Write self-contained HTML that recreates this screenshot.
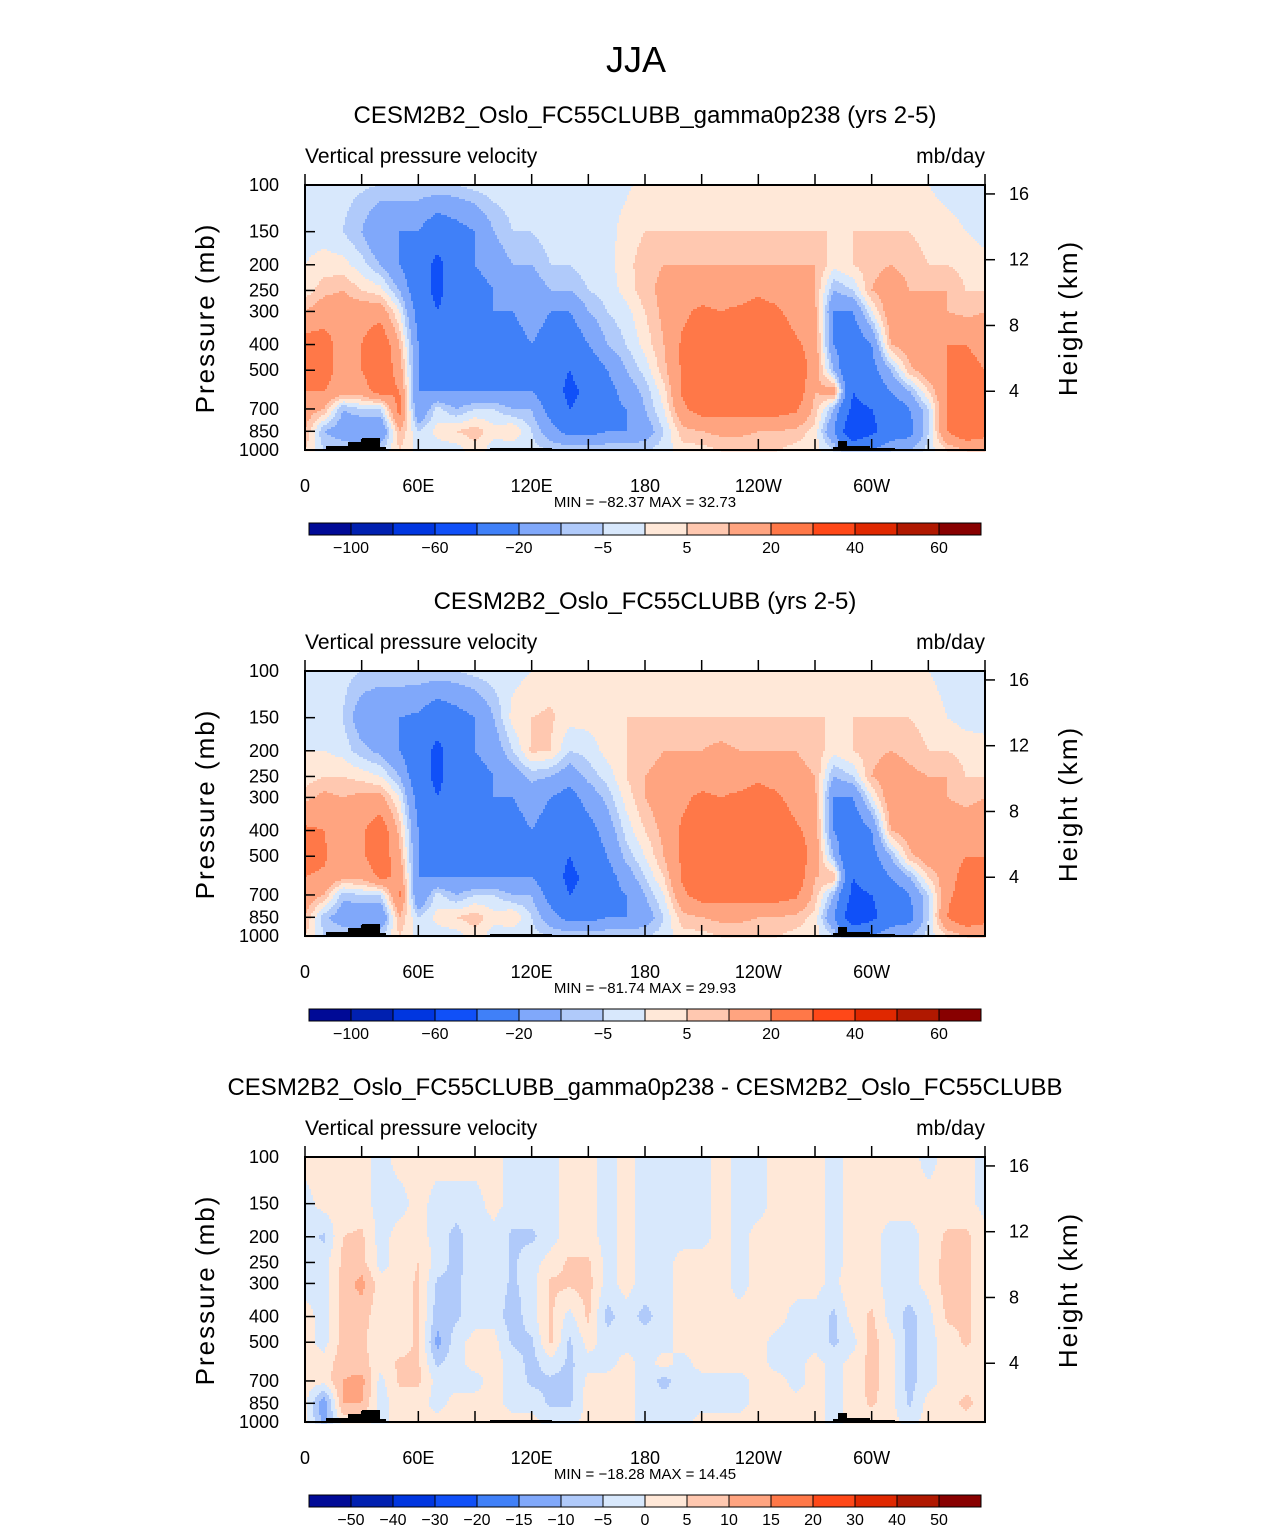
<!DOCTYPE html>
<html><head><meta charset="utf-8"><style>
body{margin:0;background:#fff;}
svg text{font-family:"Liberation Sans",sans-serif;fill:#000;}
</style></head><body>
<svg id="fig" width="1285" height="1531" viewBox="0 0 1285 1531" xmlns="http://www.w3.org/2000/svg">
<text x="636" y="72" font-size="36" text-anchor="middle">JJA</text>
</svg>
<script>
const lons=[0,10,20,30,40,50,60,70,80,90,100,110,120,130,140,150,160,170,180,190,200,210,220,230,240,250,260,270,280,290,300,310,320,330,340,350,360];
const levels=[100,150,200,250,300,400,500,600,700,850,1000];
const colors=["#000a96","#0020b0","#0036e0","#1050f8","#4080f8","#80a8fa","#b0cafa","#d8e8fc","#ffe8d8","#ffc8b0","#ffa480","#ff7848","#ff4818","#e02800","#b01800","#880000"];
const bounds12=[-100,-80,-60,-40,-20,-10,-5,0,5,10,20,30,40,50,60];
const bounds3=[-50,-40,-30,-20,-15,-10,-5,0,5,10,15,20,30,40,50];
const cbLabels12=["−100","−60","−20","−5","5","20","40","60"];
const cbLabels3=["−50","−40","−30","−20","−15","−10","−5","0","5","10","15","20","30","40","50"];
const pTicks=[100,150,200,250,300,400,500,700,850,1000];
const hTicks=[16,12,8,4];
const lonTicks=["0","60E","120E","180","120W","60W"];
const field1=[
[-3,-2,0,2,10,25,25,20,15,10,5],[-3,-2,2,8,15,25,25,20,10,-10,-5],[-3,-5,2,10,15,15,15,15,-10,-15,-5],[-4,-10,-3,5,15,20,20,15,-5,-20,-5],
[-5,-20,-10,2,15,30,30,25,-5,-20,-5],[-5,-20,-20,-10,0,10,15,20,25,10,5],[-5,-20,-30,-30,-25,-20,-20,-20,-20,-5,-2],[-5,-30,-45,-45,-40,-30,-25,-20,-3,2,-3],
[-5,-25,-30,-30,-30,-30,-25,-20,-10,5,-3],[-3,-20,-20,-25,-25,-25,-25,-20,-5,8,3],[-2,-10,-15,-20,-20,-25,-25,-20,-5,2,-3],[-2,-5,-10,-15,-20,-25,-25,-20,-10,5,-5],
[-2,-5,-10,-15,-15,-20,-20,-20,-10,-5,-3],[-2,-2,-5,-10,-20,-25,-30,-30,-25,-15,-5],[-2,-2,-5,-10,-20,-30,-40,-45,-40,-25,-5],[-2,-2,-2,-5,-10,-20,-30,-35,-35,-25,-5],
[-2,-2,-2,-3,-5,-10,-20,-25,-25,-20,-5],[-1,2,3,2,-2,-5,-10,-15,-20,-20,-5],[2,5,8,8,5,2,-3,-8,-10,-15,-5],[3,5,10,12,12,10,8,3,0,-5,-3],
[3,5,10,15,18,22,22,22,18,8,3],[3,5,10,15,22,25,25,25,25,10,3],[3,5,10,15,20,25,28,28,25,12,5],[3,5,10,15,22,25,28,28,25,12,5],
[3,5,10,18,25,25,28,28,25,10,5],[3,5,10,15,22,28,28,28,25,10,5],[3,5,10,12,15,22,28,28,22,8,3],[2,5,10,10,12,15,15,10,8,3,2],
[2,5,2,-10,-20,-20,-10,15,-10,-20,-5],[2,5,5,-5,-20,-30,-40,-40,-45,-60,-20],[2,5,8,10,0,-20,-25,-30,-40,-45,-20],[2,5,10,15,15,10,-10,-20,-30,-30,-10],
[2,5,8,10,12,15,8,-10,-20,-25,-10],[0,3,5,10,15,20,15,5,-5,-5,-3],[-2,2,5,10,10,20,20,20,20,20,5],[-3,0,3,5,8,20,25,25,25,30,10],[-3,-2,2,5,10,15,20,20,20,25,10]];
const field2=[
[-3,-2,0,2,8,22,25,20,15,10,5],[-3,-2,0,5,12,20,22,18,10,-8,-5],[-3,-5,-2,5,10,12,12,12,-8,-15,-5],[-5,-15,-8,3,12,18,18,12,-5,-20,-5],
[-5,-20,-12,0,12,28,28,22,-5,-20,-5],[-5,-20,-20,-10,0,8,12,18,22,10,5],[-5,-22,-30,-30,-25,-20,-20,-20,-20,-5,-2],[-5,-30,-45,-45,-40,-30,-25,-20,-3,2,-3],
[-5,-25,-30,-30,-30,-30,-25,-20,-10,5,-3],[-3,-20,-20,-25,-25,-25,-25,-20,-5,8,3],[-2,-10,-15,-20,-20,-25,-25,-20,-5,2,-3],[-2,2,-5,-15,-20,-25,-25,-20,-10,5,-5],
[0,5,6,-8,-15,-20,-20,-20,-10,-5,-3],[2,6,5,-10,-20,-25,-30,-30,-25,-15,-5],[2,2,-5,-15,-25,-30,-40,-45,-40,-25,-5],[2,2,-3,-8,-15,-25,-30,-35,-35,-25,-5],
[2,3,2,-3,-8,-15,-20,-25,-25,-20,-5],[3,5,5,5,2,-3,-8,-15,-20,-20,-5],[3,5,8,10,10,5,0,-5,-10,-15,-5],[3,5,10,12,15,12,10,5,0,-5,-3],
[3,5,10,15,18,22,22,22,18,8,3],[3,5,10,15,22,25,25,25,25,10,3],[3,5,12,15,20,25,28,28,25,12,5],[3,5,10,15,22,25,28,28,25,12,5],
[3,5,10,18,25,25,28,28,25,10,5],[3,5,10,15,22,28,28,28,25,10,5],[3,5,10,12,15,22,28,28,22,8,3],[2,5,8,10,12,15,15,10,8,3,2],
[2,5,2,-10,-20,-20,-10,10,-10,-20,-5],[2,5,5,-5,-20,-30,-40,-40,-45,-55,-20],[2,5,8,10,0,-20,-25,-30,-40,-45,-20],[2,5,10,15,15,10,-10,-20,-30,-30,-10],
[2,5,8,12,20,15,8,-10,-20,-25,-10],[0,3,5,10,15,20,15,5,-5,-5,-3],[-2,0,5,10,10,15,15,15,18,20,5],[-3,-2,3,5,8,15,20,25,25,30,10],[-3,-2,2,5,10,15,20,20,20,25,10]];
const field3=[
[2,-2,-2,-2,-2,2,2,2,2,2,2],[2,2,-6,-2,-2,-2,-2,2,2,-15,-12],[2,2,5,6,7,7,7,8,10,10,2],[2,2,6,7,12,7,6,7,12,10,2],
[-2,-2,-2,-2,2,2,2,2,-2,-2,-2],[2,-2,2,2,2,2,2,6,6,2,2],[2,2,2,5,6,6,6,6,6,2,2],[2,-2,-2,-2,-6,-8,-12,-6,-2,-2,2],
[2,-2,-7,-7,-6,-6,-2,-2,-2,2,2],[2,-2,-2,-2,-2,-2,2,2,-2,2,2],[2,2,-2,-2,-2,-2,2,2,2,2,2],[-2,-2,-6,-6,-6,-8,-6,-2,-2,-2,2],
[-2,-2,-6,-2,-2,-2,-6,-7,-6,-2,2],[-2,-2,-2,2,6,6,6,-2,-6,-6,-2],[2,2,2,6,6,-2,-6,-6,-7,-6,-2],[2,2,2,6,7,6,2,-2,2,2,2],
[-2,-2,-2,-2,-2,-7,-2,-2,2,2,2],[2,2,2,2,2,-2,-2,2,2,2,2],[-2,-2,-2,-2,-2,-7,-2,-2,-2,-2,-2],[-2,-2,-2,-2,-2,-2,-2,2,-7,-2,-2],
[-2,-2,-2,2,2,2,2,-2,-2,-2,-2],[-2,-2,-2,2,2,2,2,2,-2,-2,2],[2,2,2,2,2,2,2,2,-2,-2,2],[-2,-2,-2,-2,-2,2,2,2,-2,-2,2],
[-2,-2,2,2,2,2,2,2,2,2,2],[2,2,2,2,2,2,-2,-2,2,2,2],[2,2,2,2,2,-2,-2,-2,-2,2,2],[2,2,2,2,2,-2,-2,2,2,2,2],
[-2,-2,-2,-2,-2,-6,-6,-2,-2,-2,-2],[2,2,2,2,5,2,-2,2,2,2,2],[2,2,2,2,2,6,7,7,7,6,2],[2,2,-2,-2,-2,-2,2,2,2,2,2],
[2,2,-2,-2,-2,-7,-7,-7,-7,-6,-2],[-2,2,2,2,2,-2,-2,-2,-2,2,2],[2,2,6,7,7,6,2,2,2,2,2],[2,2,6,6,6,6,6,2,2,7,2],[-2,-2,2,2,2,2,2,2,2,2,2]];
const titles=["CESM2B2_Oslo_FC55CLUBB_gamma0p238 (yrs 2-5)","CESM2B2_Oslo_FC55CLUBB (yrs 2-5)","CESM2B2_Oslo_FC55CLUBB_gamma0p238 - CESM2B2_Oslo_FC55CLUBB"];
const minmax=[["−82.37","32.73"],["−81.74","29.93"],["−18.28","14.45"]];

const NS="http://www.w3.org/2000/svg";
const svg=document.getElementById('fig');
function mk(tag,attrs,parent){const e=document.createElementNS(NS,tag);for(const k in attrs)e.setAttribute(k,attrs[k]);(parent||svg).appendChild(e);return e;}
function txt(x,y,s,size,anchor,parent){const t=mk('text',{x:x,y:y,'font-size':size,'text-anchor':anchor||'start'},parent);t.textContent=s;return t;}
const X0=305,X1=985,PH=265;
function xOf(lon){return X0+(X1-X0)*lon/360;}
function yOf(p,top){return top+PH*Math.log10(p/100);}
function colorFor(v,b){let i=0;while(i<b.length&&v>=b[i])i++;return colors[i];}
function sample(f,lon,p){
  let i=Math.min(Math.floor(lon/10),35);let fx=(lon-lons[i])/10;
  const lp=Math.log10(p);let j=0;while(j<levels.length-2&&Math.log10(levels[j+1])<lp)j++;
  const l0=Math.log10(levels[j]),l1=Math.log10(levels[j+1]);let fy=Math.max(0,Math.min(1,(lp-l0)/(l1-l0)));
  const a=f[i][j],b=f[i+1][j],c=f[i][j+1],d=f[i+1][j+1];
  return (a*(1-fx)+b*fx)*(1-fy)+(c*(1-fx)+d*fx)*fy;
}
function panel(k,top,f,bounds,cbLabels,cbY){
  const g=mk('g',{});
  
  
  const tt=txt(645,top-62,titles[k],24,'middle',g);
  
  txt(X0,top-22,'Vertical pressure velocity',21,'start',g);
  txt(X1,top-22,'mb/day',21,'end',g);
  const fg=mk('g',{},g);
  
  const step=2;
  for(let y=top;y<top+PH;y+=step){
    const p=100*Math.pow(10,(y+step/2-top)/PH);
    let runStart=X0,runCol=null;
    for(let x=X0;x<=X1;x+=step){
      let col=null;
      if(x<X1){const lon=(x+step/2-X0)/(X1-X0)*360;col=colorFor(sample(f,lon,p),bounds);}
      if(col!==runCol){
        if(runCol!==null){const r=mk('rect',{x:runStart,y:y,width:x-runStart+0.5,height:step+0.5,fill:runCol},fg);
          }
        runStart=x;runCol=col;
      }
    }
  }
  const b=top+PH;
  const topo=mk('path',{d:`M326 ${b}V${b-4}H348V${b-8}H362V${b-12}H380V${b-3}H386V${b}Z M490 ${b}V${b-2}H552V${b}Z M833 ${b}V${b-3}H838V${b-9}H847V${b-4}H870V${b-2}H895V${b}Z`,fill:'#000'},g);
  
  mk('rect',{x:X0,y:top,width:X1-X0,height:PH,fill:'none',stroke:'#000','stroke-width':2},g);
  pTicks.forEach(p=>{const y=yOf(p,top);mk('line',{x1:X0,x2:X0+10,y1:y,y2:y,stroke:'#000','stroke-width':1.5},g);
    const t=txt(X0-26,y+6,String(p),18,'end',g);});
  hTicks.forEach(h=>{const p=1000*Math.exp(-h/7);const y=yOf(p,top)+7;mk('line',{x1:X1,x2:X1+10,y1:y,y2:y,stroke:'#000','stroke-width':1.5},g);
    txt(X1+24,y+6,String(h),18,'start',g);});
  for(let l=0;l<=360;l+=30){const x=xOf(l);mk('line',{x1:x,x2:x,y1:top,y2:top-11,stroke:'#000','stroke-width':1.5},g);mk('line',{x1:x,x2:x,y1:b,y2:b-11,stroke:'#000','stroke-width':1.5},g);}
  lonTicks.forEach((s,i)=>{const t=txt(xOf(i*60),b+42,s,18,'middle',g);});
  const py=txt(0,0,'Pressure (mb)',26,'middle',g);py.setAttribute('transform',`translate(214,${top+133}) rotate(-90)`);py.setAttribute('letter-spacing','2');
  
  const hy=txt(0,0,'Height (km)',26,'middle',g);hy.setAttribute('transform',`translate(1077,${top+133}) rotate(-90)`);hy.setAttribute('letter-spacing','2');
  
  txt(645,b+57,`MIN = ${minmax[k][0]}   MAX =  ${minmax[k][1]}`,15,'middle',g).setAttribute('xml:space','preserve');
  const cb=mk('g',{},g);
  
  colors.forEach((c,i)=>{const r=mk('rect',{x:309+42*i,y:cbY,width:42,height:12,fill:c,stroke:'#000','stroke-width':1},cb);
    });
  const stepL=cbLabels.length===8?2:1;
  cbLabels.forEach((s,i)=>{txt(309+42*(1+i*stepL),cbY+30,s,16,'middle',cb);});
}
panel(0,185,field1,bounds12,cbLabels12,523);
panel(1,671,field2,bounds12,cbLabels12,1009);
panel(2,1157,field3,bounds3,cbLabels3,1495);
</script>
</body></html>
